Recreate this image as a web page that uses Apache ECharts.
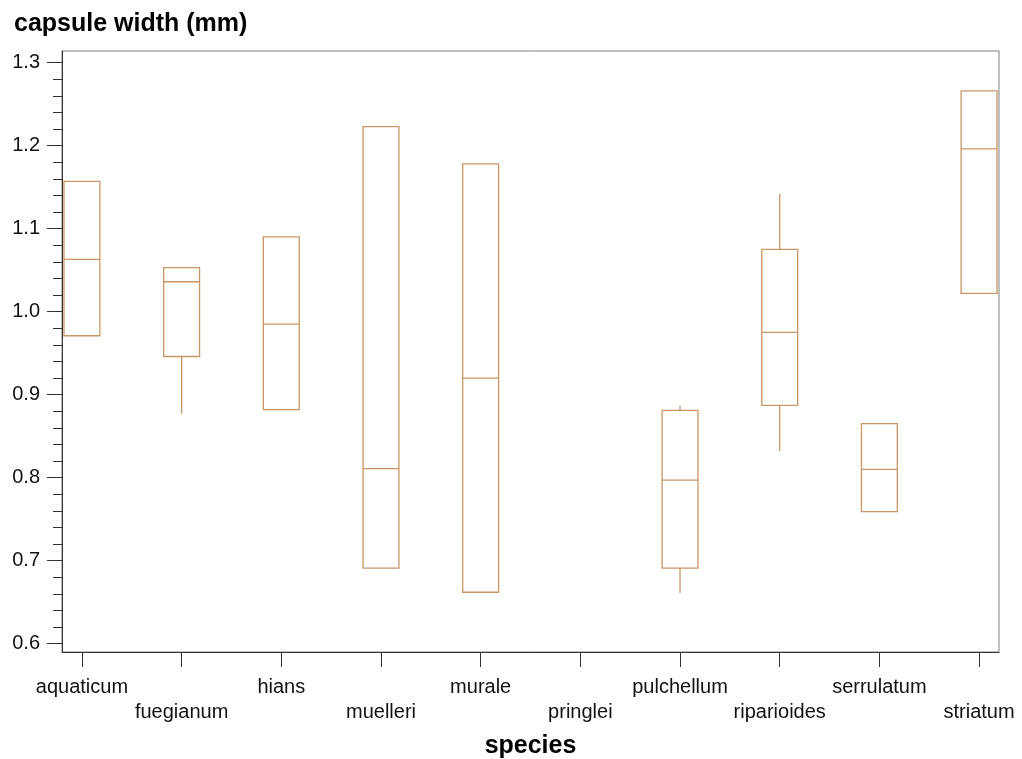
<!DOCTYPE html>
<html>
<head>
<meta charset="utf-8">
<title>capsule width (mm)</title>
<script src="https://cdn.jsdelivr.net/npm/echarts@6/dist/echarts.min.js"></script>
<style>
  html, body { margin: 0; padding: 0; background: #ffffff; }
  #chart { width: 1022px; height: 759px; }
</style>
</head>
<body>
<div id="chart"></div>
<script>
// Species along the horizontal axis
const species = ['aquaticum', 'fuegianum', 'hians', 'muelleri', 'murale',
                 'pringlei', 'pulchellum', 'riparioides', 'serrulatum', 'striatum'];

// Box statistics per species (capsule width, mm); null = no data drawn
const whiskerLow  = [0.971, 0.877, 0.882, 0.691, 0.662, null, 0.661, 0.832, 0.759, 1.022];
const quartile1   = [0.971, 0.946, 0.882, 0.691, 0.662, null, 0.691, 0.887, 0.759, 1.022];
const medians     = [1.063, 1.036, 0.985, 0.811, 0.920, null, 0.797, 0.975, 0.810, 1.196];
const quartile3   = [1.157, 1.053, 1.090, 1.223, 1.178, null, 0.881, 1.075, 0.865, 1.266];
const whiskerHigh = [1.157, 1.053, 1.090, 1.223, 1.178, null, 0.887, 1.142, 0.865, 1.266];

// Labelled ticks on the value axis
const yTicks = [0.6, 0.7, 0.8, 0.9, 1.0, 1.1, 1.2, 1.3];

// Four minor ticks between each pair of labelled ticks
const yMinor = [];
for (let i = 0; i < yTicks.length - 1; i++) {
  for (let k = 1; k < 5; k++) {
    yMinor.push(+(yTicks[i] + k * 0.02).toFixed(2));
  }
}

const boxData = [];
species.forEach((name, i) => {
  if (medians[i] == null) return;
  boxData.push([i, whiskerLow[i], quartile1[i], medians[i], quartile3[i], whiskerHigh[i]]);
});

const boxColor = '#c89664';
const textFont = "'Liberation Sans', Arial, sans-serif";

// Box from Q1 to Q3, median bar, plain whiskers without end caps
function renderBox(params, api) {
  const x = api.value(0);
  const lo = api.value(1), q1 = api.value(2), md = api.value(3), q3 = api.value(4), hi = api.value(5);
  const half = api.size([1, 0])[0] * 0.18;
  const pQ1 = api.coord([x, q1]);
  const pQ3 = api.coord([x, q3]);
  const pMd = api.coord([x, md]);
  const pLo = api.coord([x, lo]);
  const pHi = api.coord([x, hi]);
  const cx = pQ1[0];
  const style = { stroke: boxColor, lineWidth: 1.3, fill: null };
  const children = [
    { type: 'rect', shape: { x: cx - half, y: pQ3[1], width: half * 2, height: pQ1[1] - pQ3[1] }, style: style },
    { type: 'line', shape: { x1: cx - half, y1: pMd[1], x2: cx + half, y2: pMd[1] }, style: style }
  ];
  if (hi > q3) {
    children.push({ type: 'line', shape: { x1: cx, y1: pQ3[1], x2: cx, y2: pHi[1] }, style: style });
  }
  if (lo < q1) {
    children.push({ type: 'line', shape: { x1: cx, y1: pQ1[1], x2: cx, y2: pLo[1] }, style: style });
  }
  return { type: 'group', children: children };
}

const chart = echarts.init(document.getElementById('chart'), null, { renderer: 'canvas' });

chart.setOption({
  animation: false,
  backgroundColor: '#ffffff',
  title: {
    text: 'capsule width (mm)',
    left: 9,
    top: 7,
    textStyle: { fontFamily: textFont, fontWeight: 'bold', fontSize: 25, color: '#000' }
  },
  grid: {
    left: 62, right: 23, top: 51, bottom: 107,
    outerBoundsMode: 'none',
    containLabel: false,
    show: true, borderColor: '#808080', borderWidth: 1, backgroundColor: 'transparent'
  },
  xAxis: {
    type: 'value',
    min: -0.2,
    max: 9.2,
    name: 'species',
    nameLocation: 'middle',
    nameGap: 82,
    nameTextStyle: { fontFamily: textFont, fontWeight: 'bold', fontSize: 25, color: '#000' },
    axisLine: { show: true, onZero: false, lineStyle: { color: '#333', width: 1 } },
    axisTick: { show: true, length: 15, customValues: species.map((s, i) => i), lineStyle: { color: '#333' } },
    axisLabel: {
      show: true,
      customValues: species.map((s, i) => i),
      margin: 23,
      fontFamily: textFont,
      fontSize: 20,
      lineHeight: 25,
      color: '#111',
      formatter: function (v) {
        const i = Math.round(v);
        return i % 2 === 1 ? '\n' + species[i] : species[i];
      }
    },
    splitLine: { show: false }
  },
  yAxis: [
    {
      type: 'value',
      min: 0.59,
      max: 1.314,
      position: 'left',
      axisLine: { show: true, onZero: false, lineStyle: { color: '#333', width: 1 } },
      axisTick: { show: true, length: 15, customValues: yTicks, lineStyle: { color: '#333' } },
      axisLabel: {
        show: true,
        customValues: yTicks,
        margin: 22,
        fontFamily: textFont,
        fontSize: 20,
        color: '#111',
        formatter: v => v.toFixed(1)
      },
      splitLine: { show: false }
    },
    {
      type: 'value',
      min: 0.59,
      max: 1.314,
      position: 'left',
      axisLine: { show: false, onZero: false },
      axisTick: { show: true, length: 9, customValues: yMinor, lineStyle: { color: '#333' } },
      axisLabel: { show: false },
      splitLine: { show: false }
    }
  ],
  series: [
    {
      type: 'custom',
      xAxisIndex: 0,
      yAxisIndex: 0,
      renderItem: renderBox,
      encode: { x: 0, y: [1, 2, 3, 4, 5] },
      data: boxData,
      clip: false
    }
  ]
});
</script>
</body>
</html>
